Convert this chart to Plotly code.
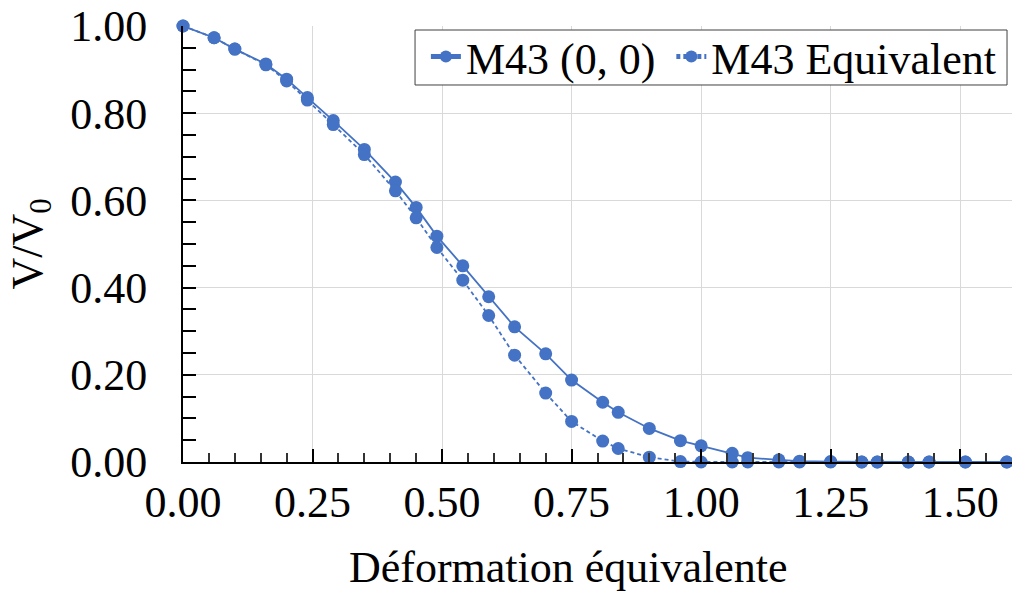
import plotly.graph_objects as go

# strain values (shared by both series)
strain = [0.00, 0.06, 0.10, 0.16, 0.20, 0.24, 0.29, 0.35, 0.41, 0.45, 0.49,
          0.54, 0.59, 0.64, 0.70, 0.75, 0.81, 0.84, 0.90, 0.96, 1.00, 1.06,
          1.09, 1.15, 1.19, 1.25, 1.31, 1.34, 1.40, 1.44, 1.51, 1.59]

v_m43 = [1.000, 0.973, 0.947, 0.913, 0.878, 0.836, 0.783, 0.717, 0.642, 0.584,
         0.518, 0.450, 0.379, 0.310, 0.248, 0.188, 0.137, 0.114, 0.077, 0.049,
         0.037, 0.020, 0.010, 0.005, 0.002, 0.001, 0.000, 0.000, 0.000, 0.000,
         0.000, 0.000]

v_equiv = [1.000, 0.973, 0.947, 0.911, 0.874, 0.830, 0.774, 0.705, 0.622, 0.560,
           0.492, 0.417, 0.336, 0.245, 0.158, 0.093, 0.048, 0.031, 0.011, 0.001,
           0.000, 0.000, 0.000, 0.000, 0.000, 0.000, 0.000, 0.000, 0.000, 0.000,
           0.000, 0.000]

blue = "#4472C4"
font = "Liberation Serif"
fsize = 44

fig = go.Figure()
fig.add_trace(go.Scatter(
    x=strain, y=v_m43, name="M43 (0, 0)\u00a0", mode="lines+markers",
    line=dict(color=blue, width=1.8),
    marker=dict(color=blue, size=13),
    cliponaxis=False,
))
fig.add_trace(go.Scatter(
    x=strain, y=v_equiv, name="M43 Equivalent", mode="lines+markers",
    line=dict(color=blue, width=1.8, dash="4px,3px"),
    marker=dict(color=blue, size=13),
    cliponaxis=False,
))

# legend frame drawn as a shape so its padding matches
fig.add_shape(
    type="rect", xref="paper", yref="paper",
    x0=0.2799, x1=0.994, y0=0.8647, y1=0.9908,
    fillcolor="white", line=dict(color="#404040", width=1), layer="above",
)

fig.add_annotation(
    text="Déformation équivalente", xref="paper", yref="paper",
    x=0.4656, y=-0.243, xanchor="center", yanchor="middle",
    showarrow=False, font=dict(family=font, size=fsize),
)

fig.update_layout(
    width=1012, height=594,
    margin=dict(l=183, r=0, t=26, b=132, autoexpand=False),
    paper_bgcolor="white", plot_bgcolor="white",
    font=dict(family=font, size=fsize, color="black"),
    showlegend=True,
    legend=dict(
        orientation="h", x=0.293, xanchor="left", y=1.0103, yanchor="top",
        bgcolor="rgba(0,0,0,0)", borderwidth=0,
        font=dict(family=font, size=fsize), itemwidth=30,
        itemsizing="constant",
    ),
)

fig.update_xaxes(
    range=[0, 1.6], dtick=0.25, tick0=0, tickformat=".2f",
    showline=True, linecolor="black", linewidth=2,
    ticks="inside", ticklen=13, tickwidth=2, tickcolor="black",
    minor=dict(dtick=0.05, ticks="inside", ticklen=9, tickwidth=2,
               tickcolor="#333333", showgrid=False),
    showgrid=True, gridcolor="#d9d9d9", gridwidth=1, zeroline=False,
    automargin=False, ticklabelstandoff=0, ticklabeloverflow="allow",
    tickfont=dict(family=font, size=fsize),
)
fig.update_yaxes(
    range=[0, 1.0], dtick=0.2, tick0=0, tickformat=".2f",
    showline=True, linecolor="black", linewidth=2,
    ticks="inside", ticklen=13, tickwidth=2, tickcolor="black",
    minor=dict(dtick=0.05, ticks="inside", ticklen=13, tickwidth=2,
               tickcolor="black", showgrid=False),
    showgrid=True, gridcolor="#d9d9d9", gridwidth=1, zeroline=False,
    automargin=False, ticklabelstandoff=25, ticklabeloverflow="allow",
    tickfont=dict(family=font, size=fsize),
    title=dict(text="V/V<sub>0</sub>", standoff=14,
               font=dict(family=font, size=fsize)),
)

# drop the page's default body margin so the figure sits at the top-left corner
fig.write_html("out.html", config=dict(displayModeBar=False),
               post_script="document.body.style.margin='0';")
